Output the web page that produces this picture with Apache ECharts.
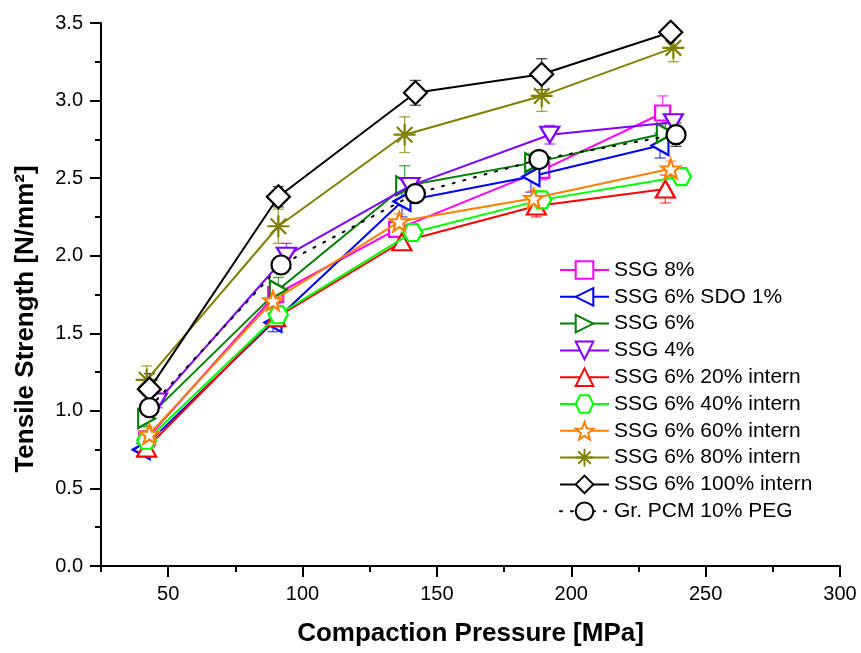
<!DOCTYPE html>
<html>
<head>
<meta charset="utf-8">
<script src="https://cdn.jsdelivr.net/npm/echarts@6/dist/echarts.min.js"></script>
<style>
  html, body { margin: 0; padding: 0; background: #ffffff; }
  #chart { width: 861px; height: 653px; }
</style>
</head>
<body>
<div id="chart"></div>
<script>
// Tensile strength of compacts vs. compaction pressure (mean ± SD)

const seriesNames = [
  'SSG 8%', 'SSG 6% SDO 1%', 'SSG 6%', 'SSG 4%',
  'SSG 6% 20% intern', 'SSG 6% 40% intern', 'SSG 6% 60% intern',
  'SSG 6% 80% intern', 'SSG 6% 100% intern', 'Gr. PCM 10% PEG'
];

const pressureSSG8 = [42, 90, 135, 189, 234];
const strengthSSG8 = [0.82, 1.75, 2.17, 2.55, 2.92];
const errorSSG8 = [0.05, 0.06, 0.05, 0.06, 0.11];

const pressureSDO = [40, 89, 137, 185, 233];
const strengthSDO = [0.75, 1.57, 2.35, 2.51, 2.71];
const errorSDO = [0.04, 0.06, 0.10, 0.10, 0.08];

const pressureSSG6 = [42, 91, 138, 186, 235];
const strengthSSG6 = [0.95, 1.78, 2.45, 2.60, 2.79];
const errorSSG6 = [0.05, 0.08, 0.13, 0.06, 0.06];

const pressureSSG4 = [46, 94, 140, 192, 238];
const strengthSSG4 = [1.06, 2.00, 2.45, 2.78, 2.86];
const errorSSG4 = [0.04, 0.08, 0.05, 0.06, 0.05];

const pressureI20 = [42, 90, 137, 187, 235];
const strengthI20 = [0.76, 1.60, 2.09, 2.32, 2.43];
const errorI20 = [0.04, 0.05, 0.05, 0.07, 0.09];

const pressureI40 = [42, 91, 141, 189, 241];
const strengthI40 = [0.81, 1.62, 2.15, 2.36, 2.51];
const errorI40 = [0.03, 0.04, 0.04, 0.04, 0.04];

const pressureI60 = [43, 89, 136, 186, 237];
const strengthI60 = [0.85, 1.71, 2.22, 2.37, 2.56];
const errorI60 = [0.04, 0.05, 0.05, 0.05, 0.05];

const pressureI80 = [42, 91, 138, 189, 238];
const strengthI80 = [1.20, 2.19, 2.78, 3.03, 3.34];
const errorI80 = [0.09, 0.11, 0.115, 0.10, 0.09];

const pressureI100 = [43, 91, 142, 189, 237];
const strengthI100 = [1.14, 2.38, 3.05, 3.17, 3.44];
const errorI100 = [0.10, 0.065, 0.08, 0.10, 0.05];

const pressurePCM = [43, 92, 142, 188, 239];
const strengthPCM = [1.02, 1.94, 2.40, 2.62, 2.78];
const errorPCM = [0.03, 0.05, 0.04, 0.05, 0.075];

const xMajorTicks = [50, 100, 150, 200, 250, 300];
const xMinorTicks = [25, 75, 125, 175, 225, 275];

const FONT = "'Liberation Sans', Arial, sans-serif";

const SYM_STAR = 'path://M10,0L12.47,6.6L19.51,6.91L13.99,11.3L15.88,18.09L10,14.2L4.12,18.09L6.01,11.3L0.49,6.91L7.53,6.6Z';
const SYM_HEX = 'path://M0,8.66L5,0L15,0L20,8.66L15,17.32L5,17.32Z';
const SYM_LEFT = 'path://M0,10L17,0L17,20Z';
const SYM_RIGHT = 'path://M17,10L0,0L0,20Z';
const SYM_DOWN = 'path://M0,0L20,0L10,17Z';
const SYM_AST = 'path://M10,0L10,20M0,10L20,10M2.93,2.93L17.07,17.07M2.93,17.07L17.07,2.93';

const styles = [
  { color: '#ff00ff', symbol: 'rect', size: 15 },
  { color: '#0000ff', symbol: SYM_LEFT, size: [17, 19] },
  { color: '#008000', symbol: SYM_RIGHT, size: [17, 19] },
  { color: '#8000ff', symbol: SYM_DOWN, size: [19, 16] },
  { color: '#ff0000', symbol: 'triangle', size: [19, 17] },
  { color: '#00ff00', symbol: SYM_HEX, size: [19, 17] },
  { color: '#ff8000', symbol: SYM_STAR, size: 19 },
  { color: '#808000', symbol: SYM_AST, size: 22 },
  { color: '#000000', symbol: 'diamond', size: 23 },
  { color: '#000000', symbol: 'circle', size: 19 }
];

const groups = [
  [pressureSSG8, strengthSSG8, errorSSG8],
  [pressureSDO, strengthSDO, errorSDO],
  [pressureSSG6, strengthSSG6, errorSSG6],
  [pressureSSG4, strengthSSG4, errorSSG4],
  [pressureI20, strengthI20, errorI20],
  [pressureI40, strengthI40, errorI40],
  [pressureI60, strengthI60, errorI60],
  [pressureI80, strengthI80, errorI80],
  [pressureI100, strengthI100, errorI100],
  [pressurePCM, strengthPCM, errorPCM]
];

const chart = echarts.init(document.getElementById('chart'), null, { renderer: 'canvas' });

const series = [];

// error bars: vertical whisker with caps
groups.forEach(function (g, i) {
  const c = styles[i].color;
  series.push({
    type: 'custom',
    name: seriesNames[i] + ' SD',
    xAxisIndex: 0,
    yAxisIndex: 0,
    z: 1,
    silent: true,
    data: g[0].map(function (x, k) { return [x, g[1][k] - g[2][k], g[1][k] + g[2][k]]; }),
    renderItem: function (params, api) {
      const lo = api.coord([api.value(0), api.value(1)]);
      const hi = api.coord([api.value(0), api.value(2)]);
      const half = 5.5;
      const st = { stroke: c, lineWidth: 1.3, opacity: 0.7 };
      return {
        type: 'group',
        children: [
          { type: 'line', shape: { x1: lo[0], y1: lo[1], x2: hi[0], y2: hi[1] }, style: st },
          { type: 'line', shape: { x1: lo[0] - half, y1: lo[1], x2: lo[0] + half, y2: lo[1] }, style: st },
          { type: 'line', shape: { x1: hi[0] - half, y1: hi[1], x2: hi[0] + half, y2: hi[1] }, style: st }
        ]
      };
    }
  });
});

groups.forEach(function (g, i) {
  const s = styles[i];
  const isPCM = i === 9;
  series.push({
    type: 'line',
    name: seriesNames[i],
    xAxisIndex: 0,
    yAxisIndex: 0,
    z: 3 + i,
    data: g[0].map(function (x, k) { return [x, g[1][k]]; }),
    symbol: s.symbol,
    symbolSize: s.size,
    showAllSymbol: true,
    lineStyle: {
      color: s.color,
      width: 2,
      type: isPCM ? [2, 9] : 'solid',
      cap: isPCM ? 'round' : 'butt'
    },
    itemStyle: {
      color: '#ffffff',
      borderColor: s.color,
      borderWidth: 2.2
    },
    emphasis: { disabled: true },
    animation: false
  });
});

const option = {
  backgroundColor: '#ffffff',
  animation: false,
  grid: { left: 101, right: 21, top: 23, bottom: 87, containLabel: false },
  legend: {
    data: seriesNames,
    orient: 'vertical',
    left: 554,
    top: 254,
    itemWidth: 49,
    itemHeight: 22,
    itemGap: 4.8,
    textStyle: { fontFamily: FONT, fontSize: 21, lineHeight: 22, color: '#000' },
    selectedMode: false
  },
  xAxis: [
    {
      type: 'value',
      min: 25,
      max: 300,
      name: 'Compaction Pressure [MPa]',
      nameLocation: 'middle',
      nameGap: 55,
      nameTextStyle: { fontFamily: FONT, fontSize: 26, fontWeight: 'bold', color: '#000' },
      axisLine: { show: true, onZero: false, lineStyle: { color: '#000', width: 2 } },
      axisTick: { show: true, length: 11, customValues: xMajorTicks, lineStyle: { color: '#000', width: 2 } },
      axisLabel: { customValues: xMajorTicks, margin: 18, fontFamily: FONT, fontSize: 20, color: '#000' },
      splitLine: { show: false }
    },
    {
      type: 'value',
      min: 25,
      max: 300,
      position: 'bottom',
      axisLine: { show: false, onZero: false },
      axisTick: { show: true, length: 6, customValues: xMinorTicks, lineStyle: { color: '#000', width: 2 } },
      axisLabel: { show: false },
      splitLine: { show: false }
    }
  ],
  yAxis: {
    type: 'value',
    min: 0,
    max: 3.5,
    interval: 0.5,
    name: 'Tensile Strength [N/mm²]',
    nameLocation: 'middle',
    nameGap: 62,
    nameTextStyle: { fontFamily: FONT, fontSize: 26, fontWeight: 'bold', color: '#000', padding: [0, 49, 0, 0] },
    axisLine: { show: true, onZero: false, lineStyle: { color: '#000', width: 2 } },
    axisTick: { show: true, length: 11, lineStyle: { color: '#000', width: 2 } },
    minorTick: { show: true, splitNumber: 2, length: 6, lineStyle: { color: '#000', width: 2 } },
    axisLabel: { margin: 18, fontFamily: FONT, fontSize: 20, color: '#000', formatter: function (v) { return v.toFixed(1); } },
    splitLine: { show: false },
    minorSplitLine: { show: false }
  },
  series: series
};

chart.setOption(option);
</script>
</body>
</html>
